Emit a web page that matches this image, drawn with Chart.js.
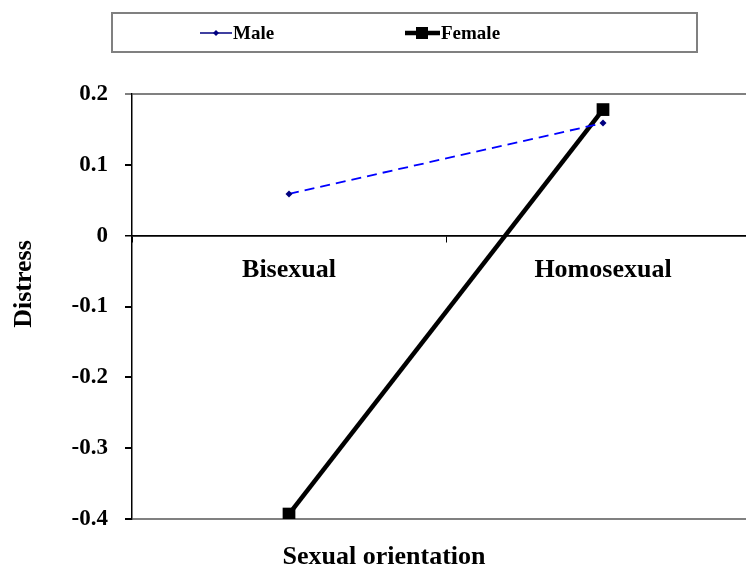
<!DOCTYPE html>
<html>
<head>
<meta charset="utf-8">
<script src="https://cdn.jsdelivr.net/npm/chart.js@4.4.1/dist/chart.umd.min.js"></script>
<style>
  html, body { margin: 0; padding: 0; background: #fff; overflow: hidden; }
  #wrap { position: relative; width: 770px; height: 570px; }
</style>
</head>
<body>
<div id="wrap"><canvas id="distress_chart"></canvas></div>
<script>
const categories = ['Bisexual', 'Homosexual'];
const maleValues = [0.059, 0.159];
const femaleValues = [-0.393, 0.178];
const yTicks = [0.2, 0.1, 0, -0.1, -0.2, -0.3, -0.4];
const xTitle = 'Sexual orientation';
const yTitle = 'Distress';

const serif = '"Liberation Serif", "Times New Roman", serif';

// legend box + axis titles, drawn the way the original sheet has them
const extras = {
  id: 'extras',
  afterDraw(chart) {
    const ctx = chart.ctx;
    const ds = chart.data.datasets;
    ctx.save();

    ctx.strokeStyle = '#808080';
    ctx.lineWidth = 2;
    ctx.strokeRect(112, 13, 585, 39);

    ctx.font = 'bold 19px ' + serif;
    ctx.fillStyle = '#000';
    ctx.textBaseline = 'middle';
    ctx.textAlign = 'left';

    // Male sample
    ctx.strokeStyle = '#000080';
    ctx.lineWidth = 1.5;
    ctx.beginPath();
    ctx.moveTo(200, 33); ctx.lineTo(232, 33);
    ctx.stroke();
    ctx.fillStyle = '#000080';
    ctx.beginPath();
    ctx.moveTo(216, 30); ctx.lineTo(219, 33); ctx.lineTo(216, 36); ctx.lineTo(213, 33);
    ctx.closePath(); ctx.fill();
    ctx.fillStyle = '#000';
    ctx.fillText(ds[0].label, 233, 34);

    // Female sample
    ctx.strokeStyle = '#000';
    ctx.lineWidth = 4.5;
    ctx.beginPath();
    ctx.moveTo(405, 33); ctx.lineTo(440, 33);
    ctx.stroke();
    ctx.fillRect(416, 27, 12, 12);
    ctx.fillText(ds[1].label, 441, 34);

    // axis titles
    ctx.font = 'bold 26px ' + serif;
    ctx.textAlign = 'center';
    ctx.fillText(xTitle, 384, 557);
    ctx.translate(24, 284);
    ctx.rotate(-Math.PI / 2);
    ctx.fillText(yTitle, 0, 0);

    ctx.restore();
  }
};

new Chart(document.getElementById('distress_chart'), {
  type: 'line',
  data: {
    labels: categories,
    datasets: [{
      label: 'Male',
      data: maleValues,
      borderColor: '#0000ff',
      borderWidth: 1.8,
      borderDash: [10, 6],
      pointStyle: 'rectRot',
      pointRadius: 3.5,
      pointBackgroundColor: '#000080',
      pointBorderColor: '#000080',
      pointBorderWidth: 0,
      fill: false,
      tension: 0
    },
    {
      label: 'Female',
      data: femaleValues,
      borderColor: '#000',
      borderWidth: 4.5,
      pointStyle: 'rect',
      pointRadius: 9,
      pointBackgroundColor: '#000',
      pointBorderColor: '#000',
      pointBorderWidth: 0,
      fill: false,
      tension: 0
    }]
  },
  options: {
    responsive: true,
    maintainAspectRatio: false,
    animation: false,
    layout: { padding: { top: 94, left: 0, right: 10, bottom: 51 } },
    plugins: {
      legend: { display: false },
      tooltip: { enabled: false }
    },
    scales: {
      x: {
        type: 'category',
        position: { y: 0 },
        offset: true,
        afterFit: (scale) => { scale.height = 0; },
        border: { display: true, color: '#000', width: 1.5 },
        grid: {
          offset: true,
          drawOnChartArea: false,
          drawTicks: true,
          tickLength: 6,
          tickColor: '#000'
        },
        ticks: {
          color: '#000',
          padding: 13,
          maxRotation: 0,
          autoSkip: false,
          font: { family: serif, size: 26, weight: 'bold' }
        }
      },
      y: {
        min: -0.4,
        max: 0.2,
        afterFit: (scale) => { scale.width = 132; },
        afterBuildTicks: (scale) => { scale.ticks = yTicks.map(v => ({ value: v })); },
        border: { display: true, color: '#000', width: 1.5 },
        grid: {
          drawTicks: true,
          tickLength: 7,
          color: (c) => {
            const v = c.tick ? c.tick.value : null;
            if (v === 0) return '#000';
            if (v === 0.2 || v === -0.4) return '#808080';
            return 'rgba(0,0,0,0)';
          },
          lineWidth: (c) => (c.tick && c.tick.value === 0) ? 1.5 : 2,
          tickColor: (c) => (c.tick && c.tick.value === 0.2) ? '#808080' : '#000'
        },
        ticks: {
          color: '#000',
          padding: 17,
          font: { family: serif, size: 23, weight: 'bold' },
          callback: (v) => String(Math.round(v * 10) / 10)
        }
      }
    }
  },
  plugins: [extras]
});
</script>
</body>
</html>
